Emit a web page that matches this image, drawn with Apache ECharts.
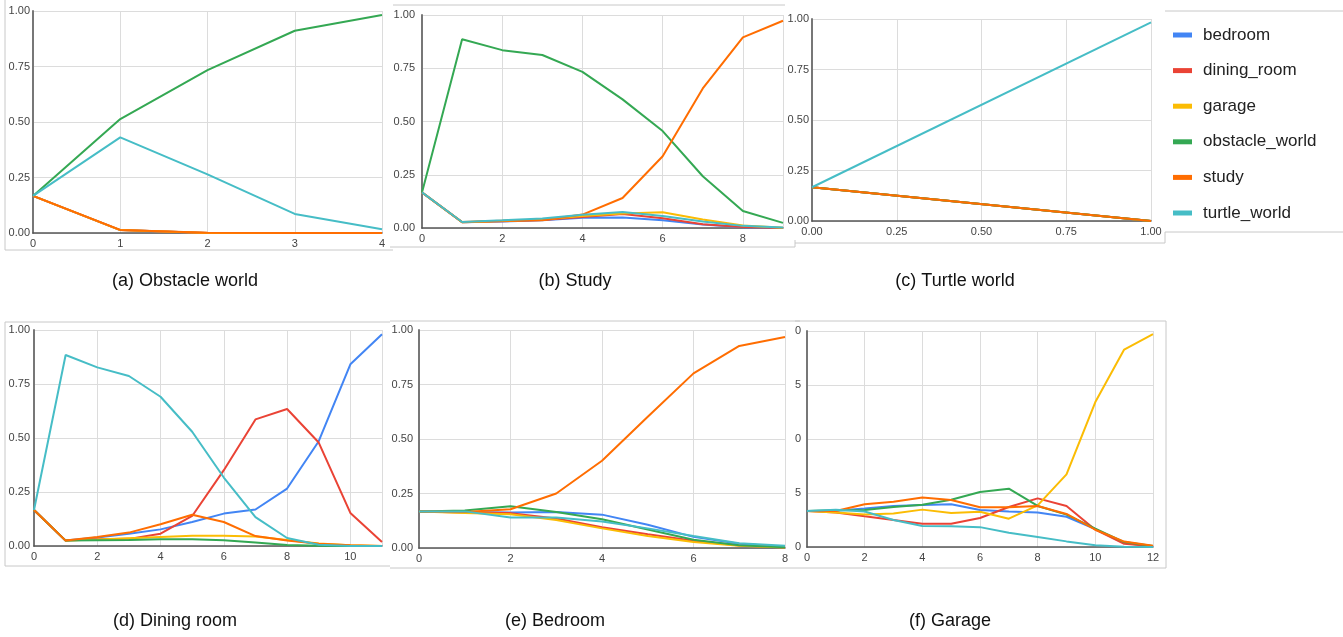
<!DOCTYPE html>
<html>
<head>
<meta charset="utf-8">
<script src="https://cdn.jsdelivr.net/npm/echarts@6/dist/echarts.min.js"></script>
<style>
html,body{margin:0;padding:0;background:#fff;}
#chart{width:1343px;height:637px;}
</style>
</head>
<body>
<div id="chart"></div>
<script>
// ---------- data ----------
const seriesNames = ['bedroom','dining_room','garage','obstacle_world','study','turtle_world'];
const seriesColors = ['#4285F4','#EA4335','#FBBC04','#34A853','#FF6D01','#46BDC6'];

const yTickLabels = ['0.00','0.25','0.50','0.75','1.00'];
const garageYTickLabels = ['0','5','0','5','0'];
const turtleXTickLabels = ['0.00','0.25','0.50','0.75','1.00'];

const captions = ['(a) Obstacle world','(b) Study','(c) Turtle world','(d) Dining room','(e) Bedroom','(f) Garage'];

// (a) Obstacle world
const a_bedroom  = [0.167,0.013,0.000,0.000,0.000];
const a_dining   = [0.167,0.013,0.000,0.000,0.000];
const a_garage   = [0.167,0.013,0.000,0.000,0.000];
const a_obstacle = [0.167,0.513,0.734,0.911,0.982];
const a_study    = [0.167,0.014,0.001,0.000,0.000];
const a_turtle   = [0.167,0.431,0.264,0.086,0.017];

// (b) Study
const b_bedroom  = [0.167,0.027,0.031,0.036,0.048,0.049,0.036,0.016,0.003,0.000];
const b_dining   = [0.167,0.027,0.032,0.038,0.052,0.066,0.046,0.018,0.005,0.000];
const b_garage   = [0.167,0.027,0.033,0.040,0.056,0.068,0.074,0.040,0.012,0.001];
const b_obstacle = [0.167,0.886,0.835,0.812,0.733,0.604,0.455,0.243,0.080,0.024];
const b_study    = [0.167,0.028,0.034,0.036,0.063,0.141,0.337,0.655,0.895,0.973];
const b_turtle   = [0.167,0.028,0.036,0.045,0.062,0.075,0.056,0.030,0.010,0.002];

// (c) Turtle world (x = 0, 1)
const c_x        = [0, 1];
const c_bedroom  = [0.167,0.000];
const c_dining   = [0.167,0.000];
const c_garage   = [0.167,0.000];
const c_obstacle = [0.167,0.000];
const c_study    = [0.167,0.000];
const c_turtle   = [0.167,0.983];

// (d) Dining room
const d_bedroom  = [0.167,0.025,0.039,0.057,0.077,0.111,0.150,0.169,0.266,0.485,0.841,0.980];
const d_dining   = [0.167,0.025,0.031,0.033,0.057,0.139,0.351,0.586,0.634,0.479,0.153,0.019];
const d_garage   = [0.167,0.025,0.030,0.036,0.042,0.047,0.047,0.044,0.028,0.012,0.003,0.000];
const d_obstacle = [0.167,0.025,0.027,0.028,0.031,0.031,0.027,0.016,0.005,0.001,0.000,0.000];
const d_study    = [0.167,0.025,0.042,0.062,0.101,0.145,0.111,0.046,0.025,0.010,0.003,0.000];
const d_turtle   = [0.167,0.884,0.827,0.787,0.691,0.529,0.317,0.134,0.037,0.006,0.000,0.000];

// (e) Bedroom
const e_bedroom  = [0.167,0.165,0.163,0.165,0.153,0.107,0.051,0.020,0.006];
const e_dining   = [0.167,0.163,0.160,0.135,0.095,0.063,0.033,0.012,0.003];
const e_garage   = [0.167,0.160,0.155,0.128,0.090,0.055,0.027,0.010,0.002];
const e_obstacle = [0.167,0.172,0.192,0.165,0.132,0.085,0.038,0.013,0.004];
const e_study    = [0.167,0.165,0.178,0.250,0.400,0.602,0.801,0.927,0.968];
const e_turtle   = [0.167,0.168,0.140,0.140,0.122,0.090,0.055,0.022,0.010];

// (f) Garage
const f_bedroom  = [0.167,0.168,0.178,0.190,0.194,0.198,0.171,0.164,0.160,0.140,0.083,0.018,0.003];
const f_dining   = [0.167,0.160,0.142,0.125,0.108,0.108,0.134,0.185,0.225,0.190,0.080,0.015,0.004];
const f_garage   = [0.167,0.160,0.150,0.155,0.173,0.157,0.163,0.131,0.193,0.336,0.671,0.914,0.985];
const f_obstacle = [0.167,0.170,0.171,0.185,0.196,0.219,0.255,0.270,0.190,0.150,0.085,0.023,0.005];
const f_study    = [0.167,0.167,0.198,0.210,0.229,0.218,0.184,0.184,0.190,0.153,0.080,0.025,0.006];
const f_turtle   = [0.167,0.172,0.164,0.125,0.097,0.096,0.092,0.066,0.046,0.026,0.008,0.001,0.000];

// ---------- layout ----------
const panels = [
  {grid:{left:33, top:11, width:349, height:222}, xMax:4,  xInt:1, ylm:3, yl:yTickLabels,
   data:[a_bedroom,a_dining,a_garage,a_obstacle,a_study,a_turtle]},
  {grid:{left:422,top:15, width:361, height:213}, xMax:9,  xInt:2, ylm:7, yl:yTickLabels,
   data:[b_bedroom,b_dining,b_garage,b_obstacle,b_study,b_turtle]},
  {grid:{left:812,top:19, width:339, height:202}, xMax:1,  xInt:0.25, ylm:3, yl:yTickLabels, xl:turtleXTickLabels, xs:c_x,
   data:[c_bedroom,c_dining,c_garage,c_obstacle,c_study,c_turtle]},
  {grid:{left:34, top:330,width:348, height:216}, xMax:11, xInt:2, ylm:4, yl:yTickLabels,
   data:[d_bedroom,d_dining,d_garage,d_obstacle,d_study,d_turtle]},
  {grid:{left:419,top:330,width:366, height:218}, xMax:8,  xInt:2, ylm:6, yl:yTickLabels,
   data:[e_bedroom,e_dining,e_garage,e_obstacle,e_study,e_turtle]},
  {grid:{left:807,top:331,width:346, height:216}, xMax:12, xInt:2, ylm:6, yl:garageYTickLabels,
   data:[f_bedroom,f_dining,f_garage,f_obstacle,f_study,f_turtle]}
];
const captionPos = [[185,281],[575,281],[955,281],[175,621],[555,621],[950,621]];

const labelFont = {color:'#444', fontSize:11, fontFamily:'Liberation Sans, Arial, sans-serif'};

const grids = [], xAxes = [], yAxes = [], series = [];
panels.forEach((p, pi) => {
  grids.push(Object.assign({containLabel:false}, p.grid));
  xAxes.push({
    type:'value', gridIndex:pi, min:0, max:p.xMax, interval:p.xInt,
    axisLine:{show:true, lineStyle:{color:'#555', width:1.5}},
    axisTick:{show:false},
    splitLine:{show:true, lineStyle:{color:'#dcdcdc', width:1}},
    axisLabel:Object.assign({margin:5, showMaxLabel: (p.xMax % p.xInt === 0),
      formatter: p.xl ? (v => p.xl[Math.round(v / p.xInt)]) : (v => String(v))}, labelFont)
  });
  yAxes.push({
    type:'value', gridIndex:pi, min:0, max:1, interval:0.25,
    axisLine:{show:true, lineStyle:{color:'#777', width:2}},
    axisTick:{show:false},
    splitLine:{show:true, lineStyle:{color:'#dcdcdc', width:1}},
    axisLabel:Object.assign({margin:p.ylm, formatter: v => p.yl[Math.round(v / 0.25)]}, labelFont)
  });
  p.data.forEach((arr, si) => {
    series.push({
      name:seriesNames[si], type:'line', xAxisIndex:pi, yAxisIndex:pi,
      showSymbol:false, symbol:'none', animation:false,
      lineStyle:{width:2, color:seriesColors[si]}, itemStyle:{color:seriesColors[si]},
      data: arr.map((v, i) => [p.xs ? p.xs[i] : i, v])
    });
  });
});

const frameStyle = {stroke:'#c8c8c8', lineWidth:1, fill:null};
function line(x1,y1,x2,y2){ return {type:'line', shape:{x1,y1,x2,y2}, style:frameStyle, silent:true, z:-1}; }
const graphics = [
  line(5,0,5,250), line(5,250,393,250),
  line(393,5,785,5), line(390,247,795,247), line(795,240,795,247),
  line(795,243,1165,243),
  line(1165,11,1343,11), line(1165,232,1343,232), line(1165,232,1165,243),
  line(5,322,390,322), line(5,322,5,566), line(5,566,390,566),
  line(390,321,800,321), line(390,568,795,568),
  line(795,321,1166,321), line(1166,321,1166,568), line(795,568,1166,568)
];
captions.forEach((c, i) => {
  graphics.push({type:'text', x:captionPos[i][0], y:captionPos[i][1], silent:true,
    style:{text:c, fill:'#111', fontSize:18, fontFamily:'Liberation Sans, Arial, sans-serif',
      textAlign:'center', textVerticalAlign:'middle'}});
});

const chart = echarts.init(document.getElementById('chart'), null, {renderer:'canvas'});
chart.setOption({
  animation:false,
  backgroundColor:'#fff',
  legend:{
    orient:'vertical', left:1168, top:20, icon:'rect', itemWidth:19, itemHeight:5, itemGap:15.6,
    data:seriesNames,
    textStyle:{color:'#222', fontSize:17, lineHeight:20, fontFamily:'Liberation Sans, Arial, sans-serif', padding:[0,0,0,6]}
  },
  grid:grids, xAxis:xAxes, yAxis:yAxes, series:series,
  graphic:graphics
});
</script>
</body>
</html>
